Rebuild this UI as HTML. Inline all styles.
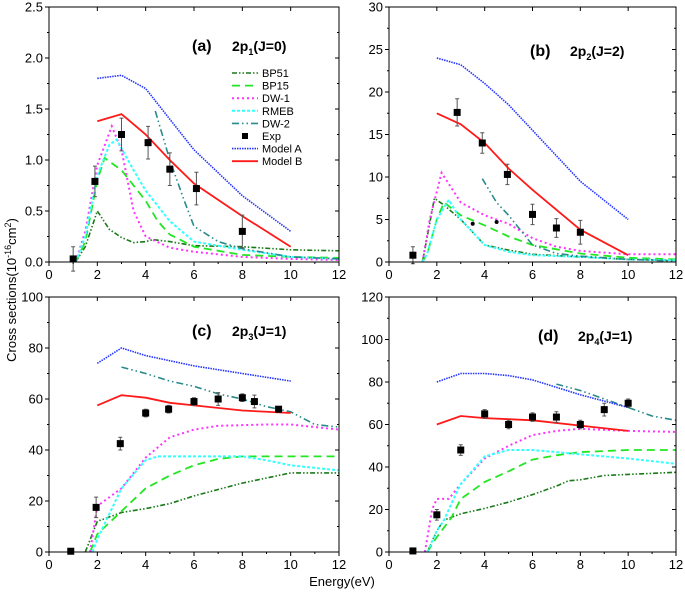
<!DOCTYPE html>
<html><head><meta charset="utf-8">
<style>
html,body{margin:0;padding:0;background:#fff;}
svg{display:block;font-family:"Liberation Sans",Arial,sans-serif;}
</style></head>
<body>
<svg id="chart" width="685" height="599" viewBox="0 0 685 599" xmlns="http://www.w3.org/2000/svg">
<text x="16" y="290" font-size="13" text-anchor="middle" transform="rotate(-90 16 290)">Cross sections(10<tspan dy="-5" font-size="9">-16</tspan><tspan dy="5">cm</tspan><tspan dy="-5" font-size="9">2</tspan><tspan dy="5">)</tspan></text>
<text x="342" y="586" font-size="13" text-anchor="middle">Energy(eV)</text>
</svg>
<script>
// ---- Panel (a) 2p1(J=0) ----
const aBP51x=[1.1,1.5,2,2.5,3,3.5,4,4.3,5,6,8,10,12];
const aBP51y=[0,0.15,0.5,0.32,0.24,0.19,0.2,0.22,0.2,0.16,0.15,0.12,0.11];
const aBP15x=[1.1,1.5,2,2.3,3,4,4.5,5,6,8,10,12];
const aBP15y=[0,0.2,0.8,1.02,0.9,0.6,0.4,0.27,0.15,0.07,0.05,0.04];
const aDW1x=[1.1,1.5,2,2.6,3,3.5,4,5,6,8,10,12];
const aDW1y=[0,0.3,0.95,1.33,1.1,0.5,0.25,0.14,0.1,0.05,0.03,0.02];
const aRMEBx=[1.1,1.5,2,2.5,2.8,3.5,4,5,6,8,10,12];
const aRMEBy=[0,0.25,0.85,1.15,1.2,0.9,0.7,0.4,0.2,0.12,0.05,0.03];
const aDW2x=[4.4,5,5.6,6,7,8,10,12];
const aDW2y=[1.48,1.0,0.6,0.35,0.2,0.13,0.05,0.03];
const aModelAx=[2,3,4,5,6,8,10];
const aModelAy=[1.8,1.83,1.7,1.4,1.1,0.65,0.3];
const aModelBx=[2,3,4,5,6,8,10];
const aModelBy=[1.38,1.45,1.25,1.0,0.77,0.45,0.15];
const aExpX=[1,1.9,3,4.1,5,6.1,8];
const aExpY=[0.03,0.79,1.25,1.17,0.91,0.72,0.3];
const aExpErr=[0.12,0.15,0.16,0.16,0.16,0.16,0.16];
const aYTicks=[0,0.5,1.0,1.5,2.0,2.5];
const aYLabels=["0.0","0.5","1.0","1.5","2.0","2.5"];
// ---- Panel (b) 2p2(J=2) ----
const bBP51x=[1.4,1.9,2.3,3,4,5,6,8,10,12];
const bBP51y=[0,7.5,6.7,5,2,1.4,0.9,0.6,0.3,0.2];
const bBP15x=[1.4,1.6,2,2.3,3,4,5,6,8,10,12];
const bBP15y=[0,1,5,7,5.5,4.3,3,2,1,0.5,0.3];
const bDW1x=[1.4,1.7,2.2,3,4,5,6,7,8,10,12];
const bDW1y=[0,5,10.5,7,5.5,4.5,2.8,1.8,1.3,0.9,0.9];
const bRMEBx=[1.4,1.6,2,2.5,3,4,5,6,8,10,12];
const bRMEBy=[0,1,5,7.3,5,2,1.2,0.8,0.6,0.3,0.2];
const bDW2x=[3.9,4.5,5,6,7,8,10,12];
const bDW2y=[9.8,7,5.5,2,1,0.7,0.3,0.1];
const bModelAx=[2,3,4,5,6,8,10];
const bModelAy=[24,23.2,21,18.5,15.5,9.5,5];
const bModelBx=[2,3,4,5,6,8,10];
const bModelBy=[17.5,16.2,14,11,8.5,3.8,0.8];
const bExpX=[1,2.85,3.9,4.95,6,7,8];
const bExpY=[0.8,17.6,14,10.3,5.6,4,3.5];
const bExpErr=[1,1.6,1.2,1.2,1.2,1.1,1.4];
const bDotX=[3.5,4.5];
const bDotY=[4.5,4.7];
const bYTicks=[0,5,10,15,20,25,30];
const bYLabels=["0","5","10","15","20","25","30"];
// ---- Panel (c) 2p3(J=1) ----
const cBP51x=[1.5,2,3,4,5,6,8,10,12];
const cBP51y=[0,12,15.5,17,19,22,27,31,31];
const cBP15x=[1.7,2,3,4,5,6,7,8,10,12];
const cBP15y=[0,7,16,25,30,34,36.5,37.5,37.5,37.5];
const cDW1x=[1.7,2,3,4,5,6,7,9,10,12];
const cDW1y=[0,18,25,37,45,48,49.5,50,50,48];
const cRMEBx=[1.8,2,2.5,3,4,4.5,6,8,9,10,12];
const cRMEBy=[0,5,15,25,36,37.5,37.5,37.5,36,34,32];
const cDW2x=[3,4,5,6,7,8,9,10,11,12];
const cDW2y=[72.5,70,67,65,62,60,57,55,50,49];
const cModelAx=[2,3,4,6,8,10];
const cModelAy=[74,80,77,73,70,67];
const cModelBx=[2,3,4,5,6,8,10];
const cModelBy=[57.5,61.5,60.5,58.5,57.5,55.5,54.5];
const cExpX=[0.9,1.95,2.95,4,4.95,6,7,8,8.5,9.5];
const cExpY=[0.3,17.5,42.5,54.5,56,59,60,60.5,59,56];
const cExpErr=[0.5,4,2.5,1.5,1.5,1.5,2.5,1.5,2.5,1];
const cYTicks=[0,20,40,60,80,100];
const cYLabels=["0","20","40","60","80","100"];
// ---- Panel (d) 2p4(J=1) ----
const dBP51x=[1.6,2,2.3,3,4,5,6,7,7.5,8,9,10,12];
const dBP51y=[0,10,15,18,20.5,23.5,27,31,33.5,34,36,36.5,37.5];
const dBP15x=[1.6,2,2.6,3,4,5,6,7,8,10,12];
const dBP15y=[0,7,16,25,33,38,43.5,45.5,47,48,48];
const dDW1x=[1.5,1.8,2,2.5,3,4,5,6,7,8,10,12];
const dDW1y=[0,20,25,25,32,44,50,55,57,58,57,56.5];
const dRMEBx=[1.6,2,2.3,2.7,3,4,5,6,7,8,9,10,12];
const dRMEBy=[0,10,15,25,32,45,48,48,47,46,45,44,41.5];
const dDW2x=[7,8,9,10,11,12];
const dDW2y=[79,76,72,68,64,62];
const dModelAx=[2,3,4,5,6,7,8,9,10];
const dModelAy=[80,84,84,83,81,77.5,74,71,68];
const dModelBx=[2,3,4,5,6,8,10];
const dModelBy=[60,64,63,62.5,62,59.5,57];
const dExpX=[1,2,3,4,5,6,7,8,9,10];
const dExpY=[0.5,17.5,48,65,60,63.5,63.5,60,67,70];
const dExpErr=[1.2,2.5,2.5,2,2,2,2.5,2,3,2];
const dYTicks=[0,20,40,60,80,100,120];
const dYLabels=["0","20","40","60","80","100","120"];
const xTicks=[0,2,4,6,8,10,12];
const xLabels=["0","2","4","6","8","10","12"];
const legendNames=["BP51","BP15","DW-1","RMEB","DW-2","Exp","Model A","Model B"];

const NS="http://www.w3.org/2000/svg";
const svg=document.getElementById('chart');
function mk(tag,attrs,parent){const e=document.createElementNS(NS,tag);for(const k in attrs)e.setAttribute(k,attrs[k]);(parent||svg).appendChild(e);return e;}
const styles={
 bp51:{stroke:"#1a7a1a",w:1.6,dash:"5,2,1.5,2,1.5,2"},
 bp15:{stroke:"#22e622",w:1.8,dash:"8,5"},
 dw1:{stroke:"#ff33ff",w:2,dash:"2,3"},
 rmeb:{stroke:"#33ffff",w:2,dash:"3,2"},
 dw2:{stroke:"#2a8a8a",w:1.6,dash:"7,3,1.5,3,1.5,3"},
 ma:{stroke:"#2233ff",w:1.6,dash:"1.5,1"},
 mb:{stroke:"#ff1a1a",w:1.8,dash:""}
};
function panel(id,px0,px1,py0,py1,ymax,yTicks,yLabels,series,expX,expY,expErr,label,sub,jtxt,lx,ly){
 const g=mk('g',{});
 
 
 const X=v=>px0+(v/12)*(px1-px0);
 const Y=v=>py0-(v/ymax)*(py0-py1);
 const clip=mk('clipPath',{id:'clip'+id},g);
 mk('rect',{x:px0,y:py1,width:px1-px0,height:py0-py1},clip);
 series.forEach(s=>{
  const st=styles[s.k];
  const d=s.x.map((v,i)=>(i?'L':'M')+X(v).toFixed(1)+','+Y(s.y[i]).toFixed(1)).join(' ');
  const p=mk('path',{d:d,fill:'none',stroke:st.stroke,'stroke-width':st.w,'stroke-dasharray':st.dash,'clip-path':'url(#clip'+id+')'},g);
  
  
 });
 expX.forEach((v,i)=>{
  const cx=X(v),cy=Y(expY[i]),e=Y(expY[i]-expErr[i])-cy;
  const eb=mk('path',{d:`M${cx},${cy-e}V${cy+e}M${cx-2},${cy-e}H${cx+2}M${cx-2},${cy+e}H${cx+2}`,stroke:'#555','stroke-width':1,fill:'none'},g);
  
  
  const r=mk('rect',{x:cx-3.5,y:cy-3.5,width:7,height:7,fill:'#000'},g);
  
  
 });
 const fr=mk('rect',{x:px0,y:py1,width:px1-px0,height:py0-py1,fill:'none',stroke:'#000','stroke-width':1},g);
 
 
 xTicks.forEach((t,i)=>{
  const x=X(t);
  mk('line',{x1:x,y1:py0,x2:x,y2:py0+4,stroke:'#000'},g);
  mk('line',{x1:x,y1:py1,x2:x,y2:py1+4,stroke:'#000'},g);
  if(i<xTicks.length-1){const xm=X(t+1);mk('line',{x1:xm,y1:py0,x2:xm,y2:py0+2,stroke:'#000'},g);}
  const tl=mk('text',{x:x,y:py0+17,'font-size':13,'text-anchor':'middle'},g);
  tl.textContent=xLabels[i];
  
  
 });
 yTicks.forEach((t,i)=>{
  const y=Y(t);
  mk('line',{x1:px0,y1:y,x2:px0-4,y2:y,stroke:'#000'},g);
  mk('line',{x1:px1,y1:y,x2:px1-4,y2:y,stroke:'#000'},g);
  if(i<yTicks.length-1){const ym=Y((t+yTicks[i+1])/2);mk('line',{x1:px0,y1:ym,x2:px0-2,y2:ym,stroke:'#000'},g);mk('line',{x1:px1,y1:ym,x2:px1-2,y2:ym,stroke:'#000'},g);}
  const tl=mk('text',{x:px0-6,y:y+4.5,'font-size':13,'text-anchor':'end'},g);
  tl.textContent=yLabels[i];
  
  
 });
 const t1=mk('text',{x:lx,y:ly,'font-size':16,'font-weight':'bold'},g);
 t1.textContent=label;
 
 
 const t2=mk('text',{x:lx+40,y:ly,'font-size':14,'font-weight':'bold'},g);
 t2.innerHTML='2p<tspan font-size="9" dy="4">'+sub+'</tspan><tspan dy="-4">'+jtxt+'</tspan>';
 
 
 return {g,X,Y};
}
function S(k,x,y){return {k,x,y};}
panel('a',49,339,262,7,2.5,aYTicks,aYLabels,
 [S('bp51',aBP51x,aBP51y),S('bp15',aBP15x,aBP15y),S('dw1',aDW1x,aDW1y),S('rmeb',aRMEBx,aRMEBy),S('dw2',aDW2x,aDW2y),S('ma',aModelAx,aModelAy),S('mb',aModelBx,aModelBy)],
 aExpX,aExpY,aExpErr,'(a)','1','(J=0)',192,51);
const pb=panel('b',389,676,262,7,30,bYTicks,bYLabels,
 [S('bp51',bBP51x,bBP51y),S('bp15',bBP15x,bBP15y),S('dw1',bDW1x,bDW1y),S('rmeb',bRMEBx,bRMEBy),S('dw2',bDW2x,bDW2y),S('ma',bModelAx,bModelAy),S('mb',bModelBx,bModelBy)],
 bExpX,bExpY,bExpErr,'(b)','2','(J=2)',530,56);
bDotX.forEach((v,i)=>{const c=mk('circle',{cx:pb.X(v),cy:pb.Y(bDotY[i]),r:2,fill:'#000'},pb.g);
 
 });
panel('c',49,339,552,297,100,cYTicks,cYLabels,
 [S('bp51',cBP51x,cBP51y),S('bp15',cBP15x,cBP15y),S('dw1',cDW1x,cDW1y),S('rmeb',cRMEBx,cRMEBy),S('dw2',cDW2x,cDW2y),S('ma',cModelAx,cModelAy),S('mb',cModelBx,cModelBy)],
 cExpX,cExpY,cExpErr,'(c)','3','(J=1)',192,336);
panel('d',389,676,552,297,120,dYTicks,dYLabels,
 [S('bp51',dBP51x,dBP51y),S('bp15',dBP15x,dBP15y),S('dw1',dDW1x,dDW1y),S('rmeb',dRMEBx,dRMEBy),S('dw2',dDW2x,dDW2y),S('ma',dModelAx,dModelAy),S('mb',dModelBx,dModelBy)],
 dExpX,dExpY,dExpErr,'(d)','4','(J=1)',538,341);
const lg=mk('g',{});


const lkeys=['bp51','bp15','dw1','rmeb','dw2',null,'ma','mb'];
legendNames.forEach((n,i)=>{
 const y=73+i*12.6;
 const e=mk('g',{},lg);
 
 
 const k=lkeys[i];
 if(k){const st=styles[k];mk('line',{x1:232,y1:y,x2:258,y2:y,stroke:st.stroke,'stroke-width':st.w,'stroke-dasharray':st.dash},e);}
 else mk('rect',{x:242,y:y-3,width:6,height:6,fill:'#000'},e);
 const t=mk('text',{x:262,y:y+4,'font-size':11},e);
 t.textContent=n;
});
</script>
</body></html>
